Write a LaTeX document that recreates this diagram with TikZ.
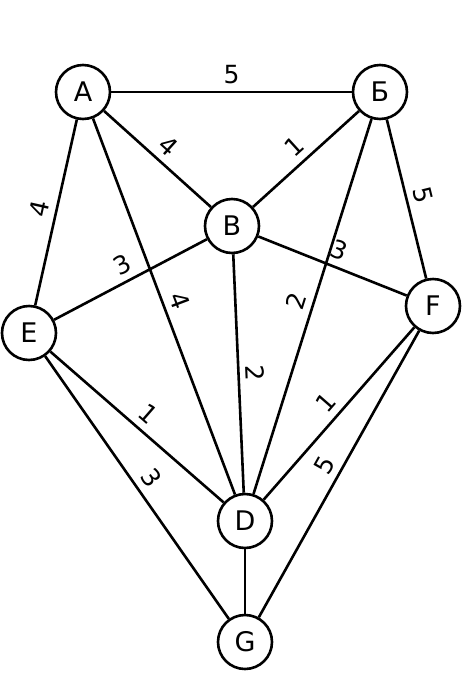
\documentclass[tikz,border=0pt]{standalone}
\usepackage{fontspec}
\setmainfont{DejaVu Sans}
\begin{document}
\begin{tikzpicture}[x=1pt,y=-1pt,
  vtx/.style={circle,draw,line width=2.6pt,minimum size=54pt,inner sep=0pt,
    font=\fontsize{27}{27}\selectfont},
  edge/.style={line width=2.6pt},
  wt/.style={midway,sloped,above,inner sep=6.5pt,font=\fontsize{25}{25}\selectfont}]
\useasboundingbox (0,0) rectangle (474,697);
\node[vtx] (A) at (83,92) {А};
\node[vtx] (B) at (380,92) {Б};
\node[vtx] (V) at (232,226) {В};
\node[vtx] (E) at (29,333) {E};
\node[vtx] (F) at (433,306) {F};
\node[vtx] (D) at (245,521) {D};
\node[vtx] (G) at (245,642) {G};
\draw[edge] (A) -- node[wt]{5} (B);
\draw[edge] (A) -- node[wt]{4} (V);
\draw[edge] (V) -- node[wt]{1} (B);
\draw[edge] (E) -- node[wt]{4} (A);
\draw[edge] (A) -- node[wt]{4} (D);
\draw[edge] (D) -- node[wt]{2} (B);
\draw[edge] (B) -- node[wt]{5} (F);
\draw[edge] (E) -- node[wt]{3} (V);
\draw[edge] (V) -- node[wt]{3} (F);
\draw[edge] (V) -- node[wt]{2} (D);
\draw[edge] (E) -- node[wt]{1} (D);
\draw[edge] (E) -- node[wt]{3} (G);
\draw[edge] (D) -- node[wt]{1} (F);
\draw[edge] (G) -- node[wt]{5} (F);
\draw[edge] (D) -- (G);
\end{tikzpicture}
\end{document}
